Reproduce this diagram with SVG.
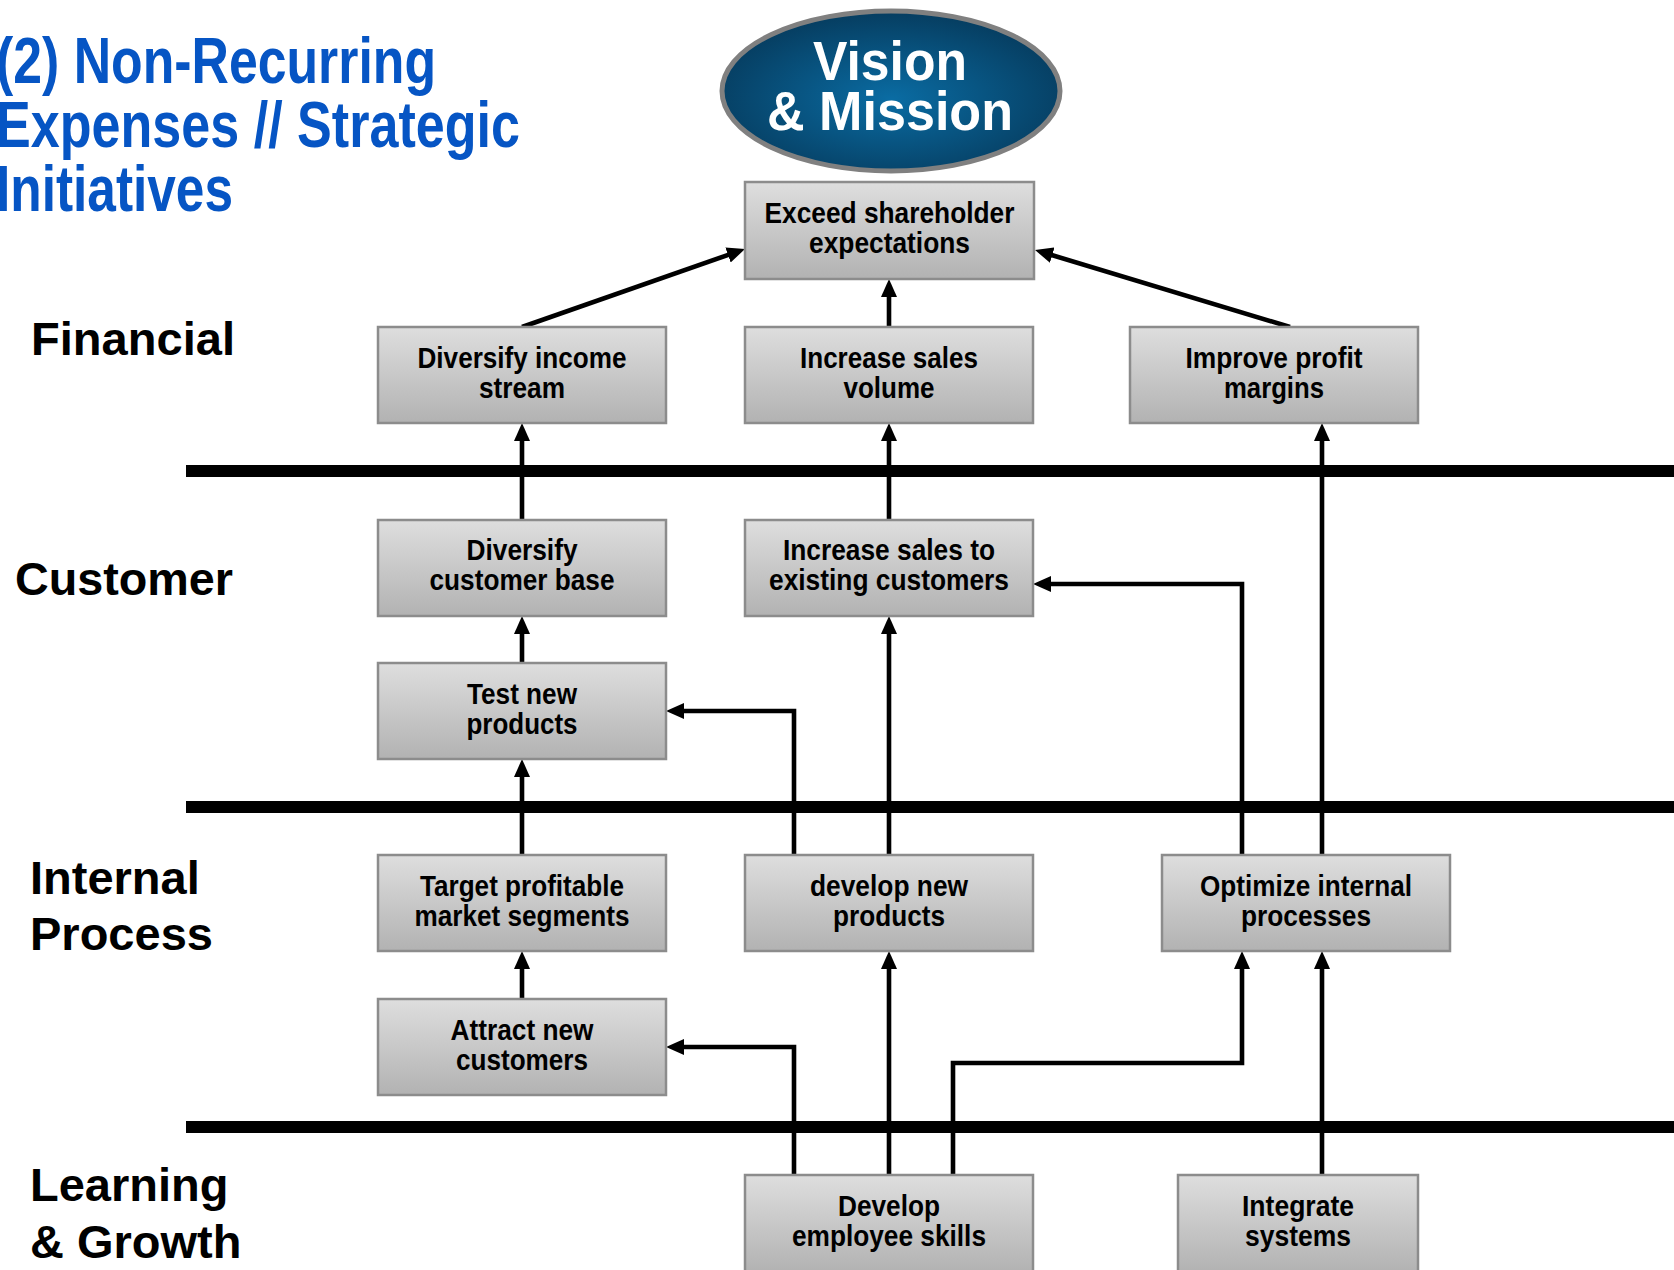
<svg xmlns="http://www.w3.org/2000/svg" width="1674" height="1270" viewBox="0 0 1674 1270">
  <style>
    .title { font-family: "Liberation Sans", Arial, sans-serif; font-weight: bold; font-size: 64px; fill: #0655c4; }
    .lane { font-family: "Liberation Sans", Arial, sans-serif; font-weight: bold; font-size: 47px; fill: #000; }
    .box { fill: url(#boxFill); stroke: #8c8c8c; stroke-width: 2.5; }
    .lbl { font-family: "Liberation Sans", Arial, sans-serif; font-weight: bold; font-size: 29px; fill: #000; text-anchor: middle; }
    .vm { font-family: "Liberation Sans", Arial, sans-serif; font-weight: bold; font-size: 55px; fill: #fff; text-anchor: middle; }
    .sep { stroke: #000; stroke-width: 12; }
    .con { fill: none; stroke: #000; stroke-width: 4.6; stroke-linejoin: miter; marker-end: url(#arrow); }
  </style>
  <defs>
    <linearGradient id="boxFill" x1="0" y1="0" x2="0" y2="1">
      <stop offset="0" stop-color="#dedede"/>
      <stop offset="1" stop-color="#b2b2b2"/>
    </linearGradient>
    <radialGradient id="ovalFill" cx="0.5" cy="0.55" r="0.55">
      <stop offset="0" stop-color="#0a6ca3"/>
      <stop offset="1" stop-color="#063d60"/>
    </radialGradient>
    <marker id="arrow" viewBox="0 0 18 16" refX="11" refY="8" markerWidth="18" markerHeight="16" markerUnits="userSpaceOnUse" orient="auto">
      <path d="M0,0 L18,8 L0,16 z" fill="#000"/>
    </marker>
  </defs>

  <rect width="1674" height="1270" fill="#fff"/>

  <!-- title -->
  <g id="title">
    <text class="title" x="-4" y="83" textLength="440" lengthAdjust="spacingAndGlyphs">(2) Non-Recurring</text>
    <text class="title" x="-4" y="147" textLength="524" lengthAdjust="spacingAndGlyphs">Expenses // Strategic</text>
    <text class="title" x="-4" y="211" textLength="237" lengthAdjust="spacingAndGlyphs">Initiatives</text>
  </g>

  <!-- perspective lane labels -->
  <g id="lanes">
    <text class="lane" x="31" y="355" textLength="204" lengthAdjust="spacingAndGlyphs">Financial</text>
    <text class="lane" x="15" y="595" textLength="218" lengthAdjust="spacingAndGlyphs">Customer</text>
    <text class="lane" x="30" y="894">Internal</text>
    <text class="lane" x="30" y="950">Process</text>
    <text class="lane" x="30" y="1201">Learning</text>
    <text class="lane" x="30" y="1258">&amp; Growth</text>
  </g>

  <!-- lane separators -->
  <g id="separators">
    <line class="sep" x1="186" y1="471" x2="1674" y2="471"/>
    <line class="sep" x1="186" y1="807" x2="1674" y2="807"/>
    <line class="sep" x1="186" y1="1127" x2="1674" y2="1127"/>
  </g>

  <!-- connectors -->
  <g id="connectors">
    <path class="con" d="M522,327 L738.4,251.3"/>
    <path class="con" d="M889,327 V286"/>
    <path class="con" d="M1290,327 L1041.7,252"/>
    <path class="con" d="M522,520 V430"/>
    <path class="con" d="M889,520 V430"/>
    <path class="con" d="M1322,855 V430"/>
    <path class="con" d="M1242,855 V584 H1040"/>
    <path class="con" d="M522,663 V623"/>
    <path class="con" d="M794,855 V711 H673"/>
    <path class="con" d="M889,855 V623"/>
    <path class="con" d="M522,855 V766"/>
    <path class="con" d="M522,999 V958"/>
    <path class="con" d="M794,1175 V1047 H673"/>
    <path class="con" d="M889,1175 V958"/>
    <path class="con" d="M953,1175 V1063 H1242 V958"/>
    <path class="con" d="M1322,1175 V958"/>
  </g>

  <!-- nodes -->
  <g id="vision">
    <ellipse cx="891" cy="91" rx="169" ry="80" fill="url(#ovalFill)" stroke="#808080" stroke-width="5"/>
    <text class="vm" x="890" y="80" textLength="154" lengthAdjust="spacingAndGlyphs">Vision</text>
    <text class="vm" x="890" y="130" textLength="246" lengthAdjust="spacingAndGlyphs">&amp; Mission</text>
  </g>

  <g id="exceed">
    <rect class="box" x="745" y="182" width="289" height="97"/>
    <text class="lbl" x="889.5" y="223" textLength="250" lengthAdjust="spacingAndGlyphs">Exceed shareholder</text>
    <text class="lbl" x="889.5" y="253" textLength="161" lengthAdjust="spacingAndGlyphs">expectations</text>
  </g>

  <g id="diversify-income">
    <rect class="box" x="378" y="327" width="288" height="96"/>
    <text class="lbl" x="522" y="368" textLength="209" lengthAdjust="spacingAndGlyphs">Diversify income</text>
    <text class="lbl" x="522" y="398" textLength="86" lengthAdjust="spacingAndGlyphs">stream</text>
  </g>

  <g id="increase-volume">
    <rect class="box" x="745" y="327" width="288" height="96"/>
    <text class="lbl" x="889" y="368" textLength="178" lengthAdjust="spacingAndGlyphs">Increase sales</text>
    <text class="lbl" x="889" y="398" textLength="91" lengthAdjust="spacingAndGlyphs">volume</text>
  </g>

  <g id="improve-margins">
    <rect class="box" x="1130" y="327" width="288" height="96"/>
    <text class="lbl" x="1274" y="368" textLength="177" lengthAdjust="spacingAndGlyphs">Improve profit</text>
    <text class="lbl" x="1274" y="398" textLength="100" lengthAdjust="spacingAndGlyphs">margins</text>
  </g>

  <g id="diversify-customers">
    <rect class="box" x="378" y="520" width="288" height="96"/>
    <text class="lbl" x="522" y="560" textLength="111" lengthAdjust="spacingAndGlyphs">Diversify</text>
    <text class="lbl" x="522" y="590" textLength="185" lengthAdjust="spacingAndGlyphs">customer base</text>
  </g>

  <g id="increase-existing">
    <rect class="box" x="745" y="520" width="288" height="96"/>
    <text class="lbl" x="889" y="560" textLength="212" lengthAdjust="spacingAndGlyphs">Increase sales to</text>
    <text class="lbl" x="889" y="590" textLength="240" lengthAdjust="spacingAndGlyphs">existing customers</text>
  </g>

  <g id="test-products">
    <rect class="box" x="378" y="663" width="288" height="96"/>
    <text class="lbl" x="522" y="704" textLength="110" lengthAdjust="spacingAndGlyphs">Test new</text>
    <text class="lbl" x="522" y="734" textLength="111" lengthAdjust="spacingAndGlyphs">products</text>
  </g>

  <g id="target-segments">
    <rect class="box" x="378" y="855" width="288" height="96"/>
    <text class="lbl" x="522" y="896" textLength="204" lengthAdjust="spacingAndGlyphs">Target profitable</text>
    <text class="lbl" x="522" y="926" textLength="215" lengthAdjust="spacingAndGlyphs">market segments</text>
  </g>

  <g id="develop-products">
    <rect class="box" x="745" y="855" width="288" height="96"/>
    <text class="lbl" x="889" y="896" textLength="158" lengthAdjust="spacingAndGlyphs">develop new</text>
    <text class="lbl" x="889" y="926" textLength="112" lengthAdjust="spacingAndGlyphs">products</text>
  </g>

  <g id="optimize-processes">
    <rect class="box" x="1162" y="855" width="288" height="96"/>
    <text class="lbl" x="1306" y="896" textLength="212" lengthAdjust="spacingAndGlyphs">Optimize internal</text>
    <text class="lbl" x="1306" y="926" textLength="130" lengthAdjust="spacingAndGlyphs">processes</text>
  </g>

  <g id="attract-customers">
    <rect class="box" x="378" y="999" width="288" height="96"/>
    <text class="lbl" x="522" y="1040" textLength="143" lengthAdjust="spacingAndGlyphs">Attract new</text>
    <text class="lbl" x="522" y="1070" textLength="132" lengthAdjust="spacingAndGlyphs">customers</text>
  </g>

  <g id="develop-skills">
    <rect class="box" x="745" y="1175" width="288" height="97"/>
    <text class="lbl" x="889" y="1216" textLength="102" lengthAdjust="spacingAndGlyphs">Develop</text>
    <text class="lbl" x="889" y="1246" textLength="194" lengthAdjust="spacingAndGlyphs">employee skills</text>
  </g>

  <g id="integrate-systems">
    <rect class="box" x="1178" y="1175" width="240" height="97"/>
    <text class="lbl" x="1298" y="1216" textLength="112" lengthAdjust="spacingAndGlyphs">Integrate</text>
    <text class="lbl" x="1298" y="1246" textLength="106" lengthAdjust="spacingAndGlyphs">systems</text>
  </g>
</svg>
